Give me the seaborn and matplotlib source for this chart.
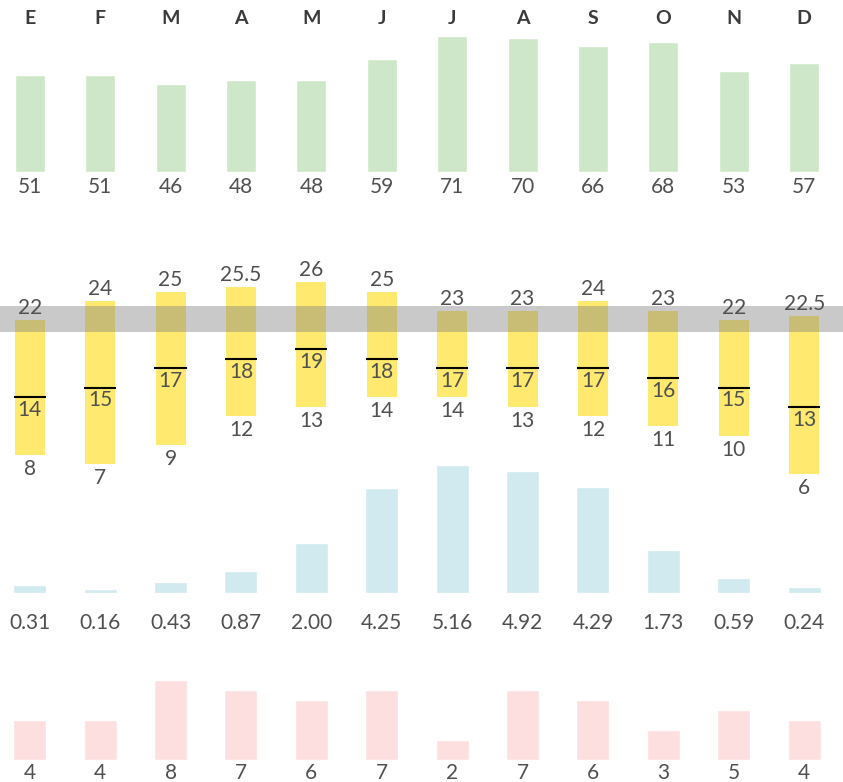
import numpy as np
import pandas as pd
import matplotlib.pyplot as plt
import seaborn as sns

sns.set_theme(style="white")
plt.rcParams["font.family"] = ["Lato", "DejaVu Sans"]

# Monthly climate summary
months = ["E", "F", "M", "A", "M", "J", "J", "A", "S", "O", "N", "D"]
green_vals = [51, 51, 46, 48, 48, 59, 71, 70, 66, 68, 53, 57]
temp_max = [22, 24, 25, 25.5, 26, 25, 23, 23, 24, 23, 22, 22.5]
temp_mean = [14, 15, 17, 18, 19, 18, 17, 17, 17, 16, 15, 13]
temp_min = [8, 7, 9, 12, 13, 14, 14, 13, 12, 11, 10, 6]
band_low, band_high = 20.8, 23.5
rain = [0.31, 0.16, 0.43, 0.87, 2.00, 4.25, 5.16, 4.92, 4.29, 1.73, 0.59, 0.24]
pink_vals = [4, 4, 8, 7, 6, 7, 2, 7, 6, 3, 5, 4]

W, H = 843, 782
fig = plt.figure(figsize=(W / 100, H / 100), dpi=100)

TXT = "#505050"
FS = 15
XLIM = (-29.75 / 70.4, (W - 29.75) / 70.4)
pos = np.arange(len(months))


def band_axes(top_px, bottom_px):
    ax = fig.add_axes([0, (H - bottom_px) / H, 1, (bottom_px - top_px) / H])
    ax.patch.set_alpha(0)
    for s in ax.spines.values():
        s.set_visible(False)
    return ax


def finish(ax, ylim):
    ax.set_xlim(*XLIM)
    ax.set_ylim(*ylim)
    ax.set_xlabel("")
    ax.set_ylabel("")
    ax.set_yticks([])
    ax.tick_params(length=0)


def value_labels(ax, ys, texts, dy):
    for x, y, t in zip(pos, ys, texts):
        ax.annotate(t, (x, y), xytext=(0, dy), textcoords="offset pixels",
                    ha="center", va="center", fontsize=FS, color=TXT,
                    fontweight="normal", annotation_clip=False, zorder=5)


df = pd.DataFrame({"pos": pos, "green": green_vals, "rain": rain, "pink": pink_vals})

# Top panel: green bars with month initials above
ax1 = band_axes(172 - 75 * 1.91, 172)
sns.barplot(data=df, x="pos", y="green", color="#cfe7c9", saturation=1,
            width=30 / 70.4, ax=ax1)
finish(ax1, (0, 75))
ax1.set_xticks(pos)
ax1.set_xticklabels(months, fontsize=14, fontweight="bold", color="#3a3a3a")
ax1.tick_params(top=True, labeltop=True, bottom=False, labelbottom=False, pad=1)
value_labels(ax1, [0] * 12, [f"{v:g}" for v in green_vals], -15)

# Temperature panel: min-max range, mean marker, highlighted band
ax2 = band_axes(531.5 - 9.6 * 27, 531.5 - 9.6 * 5)
heights = np.array(temp_max) - np.array(temp_min)
ax2.bar(pos, heights, bottom=temp_min, width=30 / 70.4, color="#ffe96e", lw=0, zorder=2)
ax2.hlines(temp_mean, pos - 0.228, pos + 0.228, color="black", lw=1.5, zorder=4)
ax2.axhspan(band_low, band_high, color="#7f7f7f", alpha=0.42, lw=0, zorder=3)
finish(ax2, (5, 27))
ax2.set_xticks([])
value_labels(ax2, temp_max, [f"{v:g}" for v in temp_max], 12)
value_labels(ax2, temp_mean, [f"{v:g}" for v in temp_mean], -13)
value_labels(ax2, temp_min, [f"{v:g}" for v in temp_min], -14)

# Rain panel
ax3 = band_axes(592.7 - 5.5 * 24.7, 592.7)
sns.barplot(data=df, x="pos", y="rain", color="#d0eaf0", saturation=1,
            width=33 / 70.4, ax=ax3)
finish(ax3, (0, 5.5))
ax3.set_xticks([])
value_labels(ax3, [0] * 12, [f"{v:.2f}" for v in rain], -30)

# Bottom panel: pink bars
ax4 = band_axes(760 - 8.5 * 10, 760)
sns.barplot(data=df, x="pos", y="pink", color="#fddfe0", saturation=1,
            width=33 / 70.4, ax=ax4)
finish(ax4, (0, 8.5))
ax4.set_xticks([])
value_labels(ax4, [0] * 12, [f"{v:g}" for v in pink_vals], -13)

fig.savefig("out.png", dpi=100)
